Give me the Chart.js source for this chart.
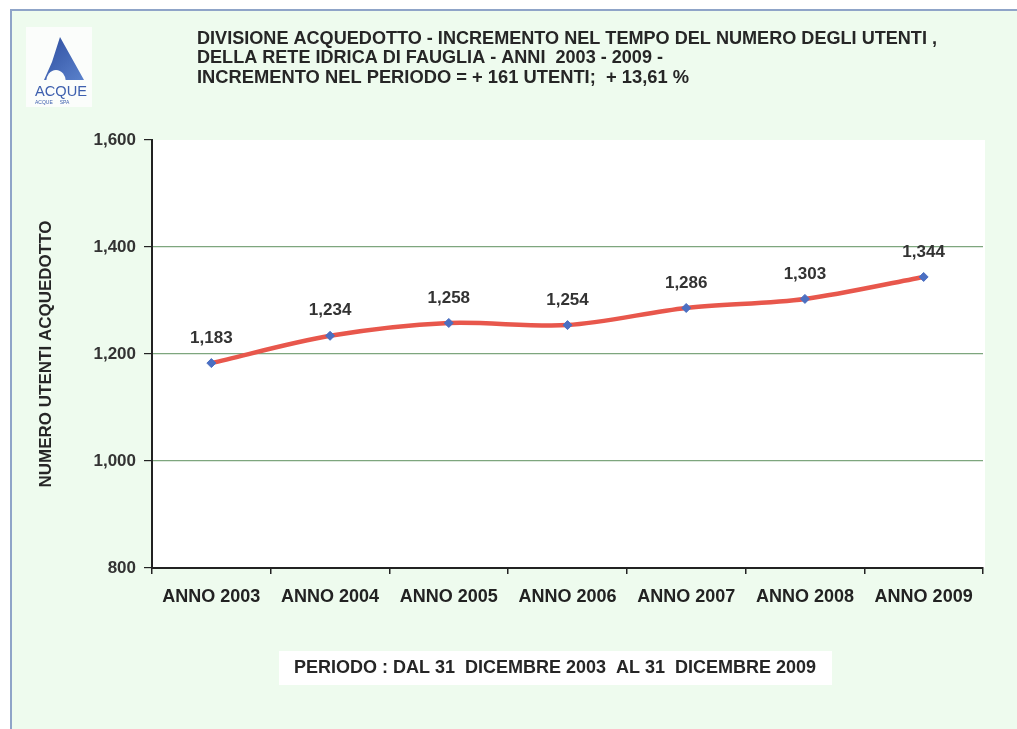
<!DOCTYPE html>
<html>
<head>
<meta charset="utf-8">
<script src="https://cdn.jsdelivr.net/npm/chart.js@4"></script>
<style>
  html, body { margin: 0; padding: 0; background: #ffffff; }
  #canvas-container { width: 1017px; height: 729px; position: relative; }
</style>
</head>
<body>
<div id="canvas-container"><canvas id="line-chart"></canvas></div>
<script>
const categories = ['ANNO 2003', 'ANNO 2004', 'ANNO 2005', 'ANNO 2006', 'ANNO 2007', 'ANNO 2008', 'ANNO 2009'];
const utenti = [1183, 1234, 1258, 1254, 1286, 1303, 1344];
const y_ticks = [800, 1000, 1200, 1400, 1600];
const title_lines = [
    'DIVISIONE ACQUEDOTTO - INCREMENTO NEL TEMPO DEL NUMERO DEGLI UTENTI ,',
    'DELLA RETE IDRICA DI FAUGLIA - ANNI  2003 - 2009 -',
    'INCREMENTO NEL PERIODO = + 161 UTENTI;  + 13,61 %'
];
const y_title = 'NUMERO UTENTI ACQUEDOTTO';
const caption = 'PERIODO : DAL 31  DICEMBRE 2003  AL 31  DICEMBRE 2009';

const font_family = '"Liberation Sans", Arial, sans-serif';

// page background, frame, logo, title and caption
const decor = {
    id: 'decor',
    beforeDraw(chart) {
        const ctx = chart.ctx;
        const a = chart.chartArea;
        ctx.save();
        ctx.fillStyle = '#ffffff';
        ctx.fillRect(0, 0, chart.width, chart.height);
        ctx.fillStyle = '#eefbee';
        ctx.fillRect(11, 10, chart.width - 11, chart.height - 10);
        ctx.strokeStyle = '#8fa4c8';
        ctx.lineWidth = 2;
        ctx.beginPath();
        ctx.moveTo(11, chart.height);
        ctx.lineTo(11, 10);
        ctx.lineTo(chart.width, 10);
        ctx.stroke();

        // plot area
        ctx.fillStyle = '#ffffff';
        ctx.fillRect(a.left, a.top, a.right - a.left + 2, a.bottom - a.top);

        // logo
        ctx.fillStyle = '#fbfdfb';
        ctx.fillRect(26, 27, 66, 80);
        const grad = ctx.createLinearGradient(45, 38, 85, 80);
        grad.addColorStop(0, '#2f4fa0');
        grad.addColorStop(1, '#5b82cc');
        ctx.fillStyle = grad;
        ctx.beginPath();
        ctx.moveTo(60, 37);
        ctx.lineTo(84, 80);
        ctx.lineTo(44, 80);
        ctx.lineTo(52, 62);
        ctx.closePath();
        ctx.fill();
        ctx.fillStyle = '#fbfdfb';
        ctx.beginPath();
        ctx.ellipse(56, 82, 10, 12, 0, Math.PI, 2 * Math.PI);
        ctx.fill();
        ctx.fillStyle = '#3d5fae';
        ctx.font = '15px ' + font_family;
        ctx.textAlign = 'left';
        ctx.textBaseline = 'alphabetic';
        ctx.fillText('ACQUE', 35, 96, 52);
        ctx.font = '5px ' + font_family;
        ctx.fillText('ACQUE     SPA', 35, 104, 52);

        // title
        ctx.fillStyle = '#262626';
        ctx.font = 'bold 19px ' + font_family;
        ctx.textBaseline = 'middle';
        const widths = [740, 466, 492];
        title_lines.forEach((line, i) => {
            ctx.fillText(line, 197, 38.5 + i * 19.5, widths[i]);
        });

        // bottom caption
        ctx.fillStyle = '#ffffff';
        ctx.fillRect(279, 651, 553, 34);
        ctx.fillStyle = '#262626';
        ctx.font = 'bold 18px ' + font_family;
        ctx.textAlign = 'center';
        ctx.fillText(caption, 555, 668, 540);
        ctx.restore();
    }
};

// value labels above the points
const value_labels = {
    id: 'value_labels',
    afterDatasetsDraw(chart) {
        const ctx = chart.ctx;
        const meta = chart.getDatasetMeta(0);
        ctx.save();
        ctx.fillStyle = '#333333';
        ctx.font = 'bold 17px ' + font_family;
        ctx.textAlign = 'center';
        ctx.textBaseline = 'middle';
        meta.data.forEach((pt, i) => {
            ctx.fillText(utenti[i].toLocaleString('en-US'), pt.x, pt.y - 25);
        });
        ctx.restore();
    }
};

const chart = new Chart(document.getElementById('line-chart'), {
    type: 'line',
    data: {
        labels: categories,
        datasets: [{
            data: utenti,
            borderColor: '#e8574c',
            borderWidth: 4.5,
            tension: 0.3,
            pointStyle: 'rectRot',
            pointRadius: 4.5,
            pointBackgroundColor: '#4b6fc2',
            pointBorderColor: '#4b6fc2',
            pointBorderWidth: 1
        }]
    },
    options: {
        responsive: true,
        maintainAspectRatio: false,
        animation: false,
        layout: {
            padding: { left: 0, right: 34, top: 140, bottom: 111 }
        },
        plugins: {
            legend: { display: false },
            title: { display: false },
            tooltip: { enabled: false }
        },
        scales: {
            x: {
                offset: true,
                afterFit: function (scale) { scale.height = 50; },
                border: { color: '#222222', width: 2 },
                grid: {
                    offset: true,
                    drawOnChartArea: false,
                    color: '#222222',
                    tickLength: 6,
                    lineWidth: 1.5
                },
                ticks: {
                    color: '#222222',
                    padding: 12,
                    maxRotation: 0,
                    autoSkip: false,
                    font: { family: font_family, size: 18, weight: 'bold' }
                }
            },
            y: {
                min: 800,
                max: 1600,
                afterFit: function (scale) { scale.width = 152; },
                afterBuildTicks: function (scale) {
                    scale.ticks = y_ticks.map(v => ({ value: v }));
                },
                border: { color: '#222222', width: 2 },
                grid: {
                    color: function (context) {
                        const v = context.tick ? context.tick.value : 0;
                        return (v === 800 || v === 1600) ? 'rgba(0,0,0,0)' : '#7ea67e';
                    },
                    tickColor: '#222222',
                    tickLength: 8,
                    lineWidth: 1.2
                },
                ticks: {
                    color: '#333333',
                    padding: 8,
                    font: { family: font_family, size: 17, weight: 'bold' }
                },
                title: {
                    display: true,
                    text: y_title,
                    color: '#262626',
                    padding: { top: 36, bottom: 0 },
                    font: { family: font_family, size: 17, weight: 'bold' }
                }
            }
        }
    },
    plugins: [decor, value_labels]
});
</script>
</body>
</html>
